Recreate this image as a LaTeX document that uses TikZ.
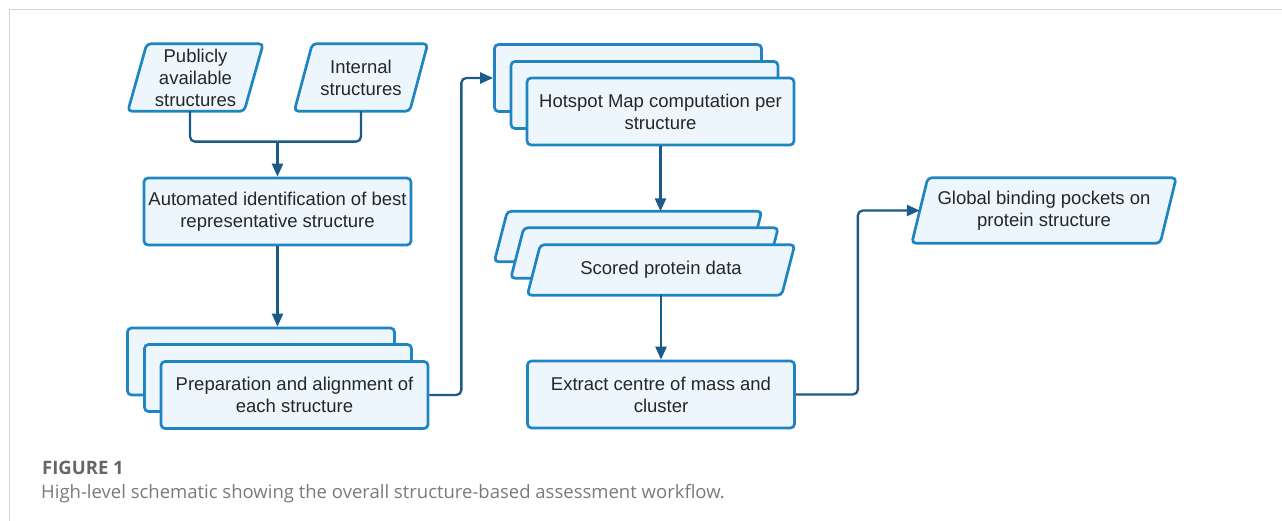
\documentclass[tikz,border=0pt]{standalone}
\usepackage{fontspec}
\setmainfont{Liberation Sans}
\newfontfamily\capfont{Open Sans}
\usetikzlibrary{arrows.meta}
\definecolor{boxfill}{HTML}{EDF6FD}
\definecolor{boxline}{HTML}{1F84C2}
\definecolor{connline}{HTML}{1C5A88}
\definecolor{txt}{HTML}{262626}
\definecolor{framegray}{HTML}{D2D2D2}
\definecolor{capgray}{HTML}{7A7A7A}
\definecolor{figgray}{HTML}{666666}
\pgfdeclarelayer{bg}\pgfsetlayers{bg,main}
\newcommand\drawpara[2]{\begin{pgfonlayer}{bg}\path[paraline] ([xshift=#2pt]#1.north west) -- ([xshift=#2pt]#1.north east) -- ([xshift=-#2pt]#1.south east) -- ([xshift=-#2pt]#1.south west) -- cycle;\end{pgfonlayer}}
\begin{document}
\begin{tikzpicture}[x=1pt,y=-1pt,
  boxtext/.style={text=txt, align=center, font=\fontsize{18.5}{22}\selectfont, inner sep=0pt},
  card/.style={boxtext, draw=boxline, fill=boxfill, line width=2.7pt, rounded corners=4pt, minimum width=267pt, minimum height=67pt},
  paraline/.style={draw=boxline, fill=boxfill, line width=2.7pt, rounded corners=4pt},
  wire/.style={draw=connline, line width=2.3pt, rounded corners=5pt},
  arrow/.style={wire, -{Triangle[length=13pt,width=11pt]}},
]
\useasboundingbox (0,0) rectangle (1282,521);
\draw[framegray, line width=1.5pt] (9.5,521) -- (9.5,9.5) -- (1282,9.5);

% inputs
\node[boxtext, minimum width=116pt, minimum height=67pt] (pub) at (195.5,77.5) {Publicly\\available\\structures};
\drawpara{pub}{9.5}
\node[boxtext, minimum width=115pt, minimum height=67pt] (int) at (361,77.5) {Internal\\structures};
\drawpara{int}{9}

\node[card] (auto) at (277.5,211.5) {Automated identification of best\\representative structure};

% preparation stack
\node[card] (prepback) at (261,361.5) {};
\node[card] (prepmid) at (278,378) {};
\node[card] (prep) at (294.5,395) {Preparation and alignment of\\each structure};

% hotspot stack
\node[card] (hotback) at (628,78) {};
\node[card] (hotmid) at (644.5,95) {};
\node[card] (hot) at (660.5,111.5) {Hotspot Map computation per\\structure};

% scored stack
\node[boxtext, minimum width=254pt, minimum height=50pt] (scoredback) at (628,236.5) {};
\drawpara{scoredback}{6.5}
\node[boxtext, minimum width=254pt, minimum height=50pt] (scoredmid) at (644.5,253) {};
\drawpara{scoredmid}{6.5}
\node[boxtext, minimum width=254pt, minimum height=50pt] (scored) at (661,270) {Scored protein data};
\drawpara{scored}{6.5}

\node[card] (ext) at (661,394.5) {Extract centre of mass and\\cluster};

\node[boxtext, minimum width=248pt, minimum height=65pt] (glob) at (1044,210.5) {Global binding pockets on\\protein structure};
\drawpara{glob}{8}

% connectors
\coordinate (j) at ([yshift=35pt]auto.north);
\draw[wire] ([xshift=-5.5pt]pub.south) |- (j);
\draw[wire] (int.south) |- (j);
\draw[arrow] (j) -- (auto.north);
\draw[arrow] (auto.south) -- (auto.south |- prepback.north);
\draw[arrow] (prep.east) -- ++(32,0) |- (hotback.west);
\draw[arrow] (hot.south) -- (hot.south |- scoredback.north);
\draw[arrow] (scored.south) -- (ext.north);
\draw[arrow] (ext.east) -- ++(62,0) |- (glob.west);

% caption
\node[anchor=base west, inner sep=0pt, font=\capfont\bfseries\fontsize{18.5}{21}\selectfont, text=figgray] (figlabel) at (42,474) {FIGURE 1};
\node[anchor=base west, inner sep=0pt, font=\capfont\fontsize{18.5}{20}\selectfont, text=capgray] (caption) at (41,498) {High-level schematic showing the overall structure-based assessment workflow.};
\end{tikzpicture}
\end{document}
